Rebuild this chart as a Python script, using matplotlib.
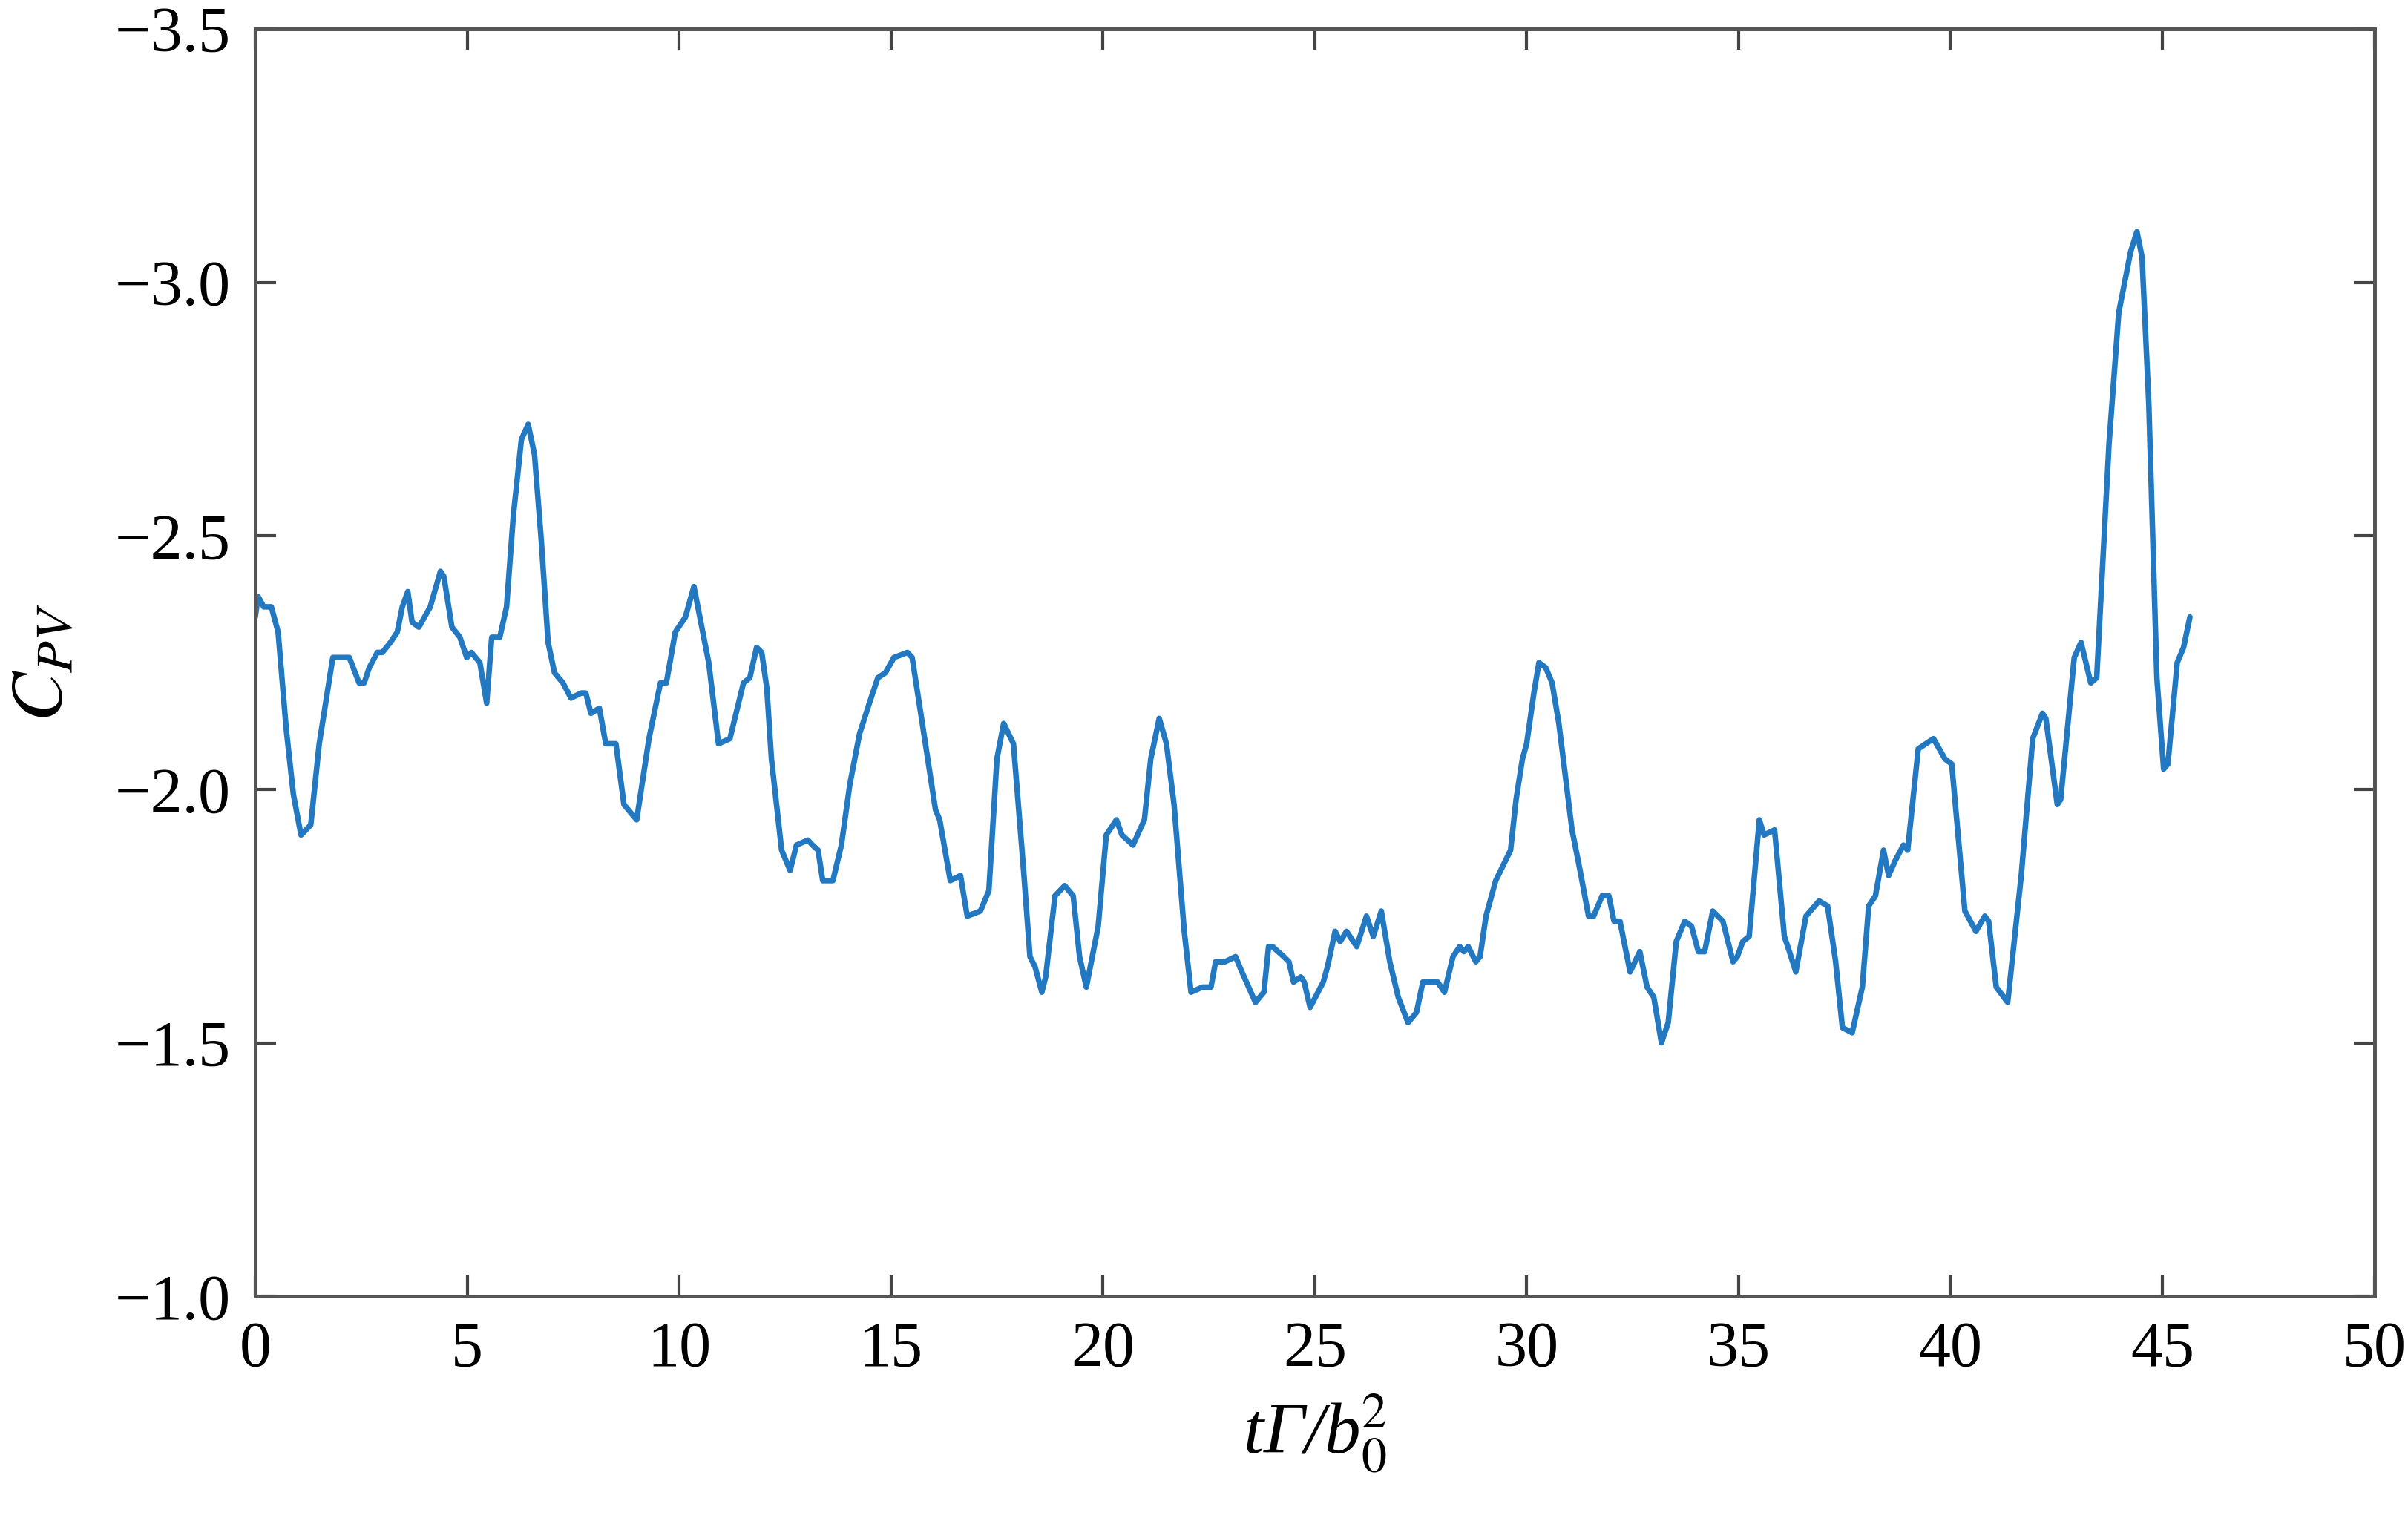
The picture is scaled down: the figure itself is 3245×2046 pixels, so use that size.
import matplotlib
matplotlib.use("Agg")
import matplotlib.pyplot as plt
import numpy as np

# C_PV time history
t = [0.0, 0.07, 0.2, 0.38, 0.54, 0.73, 0.9, 1.08, 1.31, 1.51, 1.83, 2.02, 2.22,
     2.45, 2.57, 2.69, 2.88, 3.0, 3.19, 3.35, 3.47, 3.6, 3.7, 3.86, 4.13, 4.37,
     4.45, 4.64, 4.83, 4.99, 5.1, 5.3, 5.46, 5.58, 5.77, 5.93, 6.09, 6.28, 6.44,
     6.59, 6.75, 6.91, 7.06, 7.26, 7.45, 7.69, 7.8, 7.92, 8.12, 8.27, 8.51, 8.7,
     9.0, 9.29, 9.56, 9.7, 9.91, 10.15, 10.35, 10.7, 10.93, 11.2, 11.52, 11.67,
     11.83, 11.95, 12.07, 12.18, 12.42, 12.62, 12.77, 13.04, 13.15, 13.28, 13.39,
     13.63, 13.83, 14.03, 14.26, 14.49, 14.69, 14.87, 15.07, 15.39, 15.5, 15.74,
     16.05, 16.15, 16.4, 16.64, 16.8, 17.11, 17.31, 17.5, 17.66, 17.89, 18.13,
     18.28, 18.4, 18.56, 18.65, 18.87, 19.1, 19.3, 19.45, 19.61, 19.89, 20.08,
     20.32, 20.45, 20.71, 20.98, 21.13, 21.33, 21.5, 21.68, 21.92, 22.08, 22.35,
     22.55, 22.66, 22.88, 23.13, 23.28, 23.6, 23.8, 23.91, 24.0, 24.27, 24.39,
     24.5, 24.67, 24.75, 24.89, 25.2, 25.3, 25.48, 25.6, 25.75, 25.99, 26.22,
     26.38, 26.57, 26.77, 26.97, 27.2, 27.4, 27.55, 27.79, 27.9, 28.06, 28.26,
     28.42, 28.52, 28.62, 28.8, 28.9, 29.04, 29.27, 29.62, 29.75, 29.9, 30.0,
     30.17, 30.29, 30.45, 30.6, 30.76, 31.07, 31.26, 31.46, 31.58, 31.78, 31.94,
     32.06, 32.2, 32.44, 32.67, 32.84, 33.0, 33.18, 33.34, 33.53, 33.73, 33.89,
     34.05, 34.2, 34.39, 34.63, 34.87, 34.97, 35.1, 35.25, 35.49, 35.6, 35.85,
     36.08, 36.2, 36.35, 36.59, 36.9, 37.1, 37.29, 37.45, 37.68, 37.92, 38.07,
     38.23, 38.42, 38.54, 38.7, 38.89, 38.99, 39.24, 39.6, 39.87, 40.03, 40.34,
     40.6, 40.81, 40.9, 41.08, 41.35, 41.67, 41.94, 42.17, 42.25, 42.52, 42.6,
     42.92, 43.08, 43.31, 43.45, 43.74, 43.97, 44.25, 44.4, 44.52, 44.68, 44.87,
     45.03, 45.13, 45.35, 45.5, 45.65]

cpv = [-2.34, -2.38, -2.36, -2.36, -2.31, -2.12, -1.99, -1.91, -1.93, -2.09,
       -2.26, -2.26, -2.26, -2.21, -2.21, -2.24, -2.27, -2.27, -2.29, -2.31,
       -2.36, -2.39, -2.33, -2.32, -2.36, -2.43, -2.42, -2.32, -2.30, -2.26,
       -2.27, -2.25, -2.17, -2.30, -2.30, -2.36, -2.54, -2.69, -2.72, -2.66,
       -2.49, -2.29, -2.23, -2.21, -2.18, -2.19, -2.19, -2.15, -2.16, -2.09,
       -2.09, -1.97, -1.94, -2.10, -2.21, -2.21, -2.31, -2.34, -2.40, -2.25,
       -2.09, -2.10, -2.21, -2.22, -2.28, -2.27, -2.20, -2.06, -1.88, -1.84,
       -1.89, -1.90, -1.89, -1.88, -1.82, -1.82, -1.89, -2.01, -2.11, -2.17,
       -2.22, -2.23, -2.26, -2.27, -2.26, -2.13, -1.96, -1.94, -1.82, -1.83,
       -1.75, -1.76, -1.80, -2.06, -2.13, -2.09, -1.84, -1.67, -1.65, -1.60,
       -1.63, -1.79, -1.81, -1.79, -1.67, -1.61, -1.73, -1.91, -1.94, -1.91,
       -1.89, -1.94, -2.06, -2.14, -2.09, -1.97, -1.72, -1.60, -1.61, -1.61,
       -1.66, -1.66, -1.67, -1.64, -1.58, -1.60, -1.69, -1.69, -1.67, -1.66,
       -1.62, -1.63, -1.62, -1.57, -1.62, -1.65, -1.72, -1.70, -1.72, -1.69,
       -1.75, -1.71, -1.76, -1.66, -1.59, -1.54, -1.56, -1.62, -1.62, -1.62,
       -1.60, -1.67, -1.69, -1.68, -1.69, -1.66, -1.67, -1.75, -1.82, -1.88,
       -1.98, -2.06, -2.09, -2.19, -2.25, -2.24, -2.21, -2.13, -1.92, -1.84,
       -1.75, -1.75, -1.79, -1.79, -1.74, -1.74, -1.64, -1.68, -1.61, -1.59,
       -1.50, -1.54, -1.70, -1.74, -1.73, -1.68, -1.68, -1.76, -1.74, -1.66,
       -1.67, -1.70, -1.71, -1.94, -1.91, -1.92, -1.71, -1.68, -1.64, -1.75,
       -1.78, -1.77, -1.66, -1.53, -1.52, -1.61, -1.77, -1.79, -1.88, -1.83,
       -1.86, -1.89, -1.88, -2.08, -2.10, -2.06, -2.05, -1.76, -1.72, -1.75,
       -1.74, -1.61, -1.58, -1.83, -2.10, -2.15, -2.14, -1.97, -1.98, -2.26,
       -2.29, -2.21, -2.22, -2.68, -2.94, -3.06, -3.10, -3.05, -2.76, -2.22,
       -2.04, -2.05, -2.25, -2.28, -2.34]

xticks = [0, 5, 10, 15, 20, 25, 30, 35, 40, 45, 50]
yticks = [-3.5, -3.0, -2.5, -2.0, -1.5, -1.0]

plt.rcParams["font.family"] = ["Liberation Serif", "DejaVu Serif"]
plt.rcParams["mathtext.fontset"] = "stix"

fig = plt.figure(figsize=(16.225, 10.23), dpi=200)
ax = fig.add_axes([0.106, 0.146, 0.880, 0.835])

ax.plot(t, cpv, color="#2279c2", lw=2.7, solid_joinstyle="round",
        solid_capstyle="round")

ax.set_xlim(0, 50)
ax.set_ylim(-1.0, -3.5)
ax.set_xticks(xticks)
ax.set_yticks(yticks)
ax.set_xticklabels([str(v) for v in xticks])
ax.set_yticklabels(["\u2212%.1f" % abs(v) for v in yticks])

for s in ax.spines.values():
    s.set_color("#555555")
    s.set_linewidth(1.8)
ax.tick_params(direction="in", length=10, width=1.5, color="#444444",
               top=True, right=True, labelsize=31, pad=12)

# italic text outside $...$ gives the slanted Gamma
ax.set_xlabel("t\u0393/b$_0^2$", fontsize=35, style="italic", labelpad=6)
ax.set_ylabel(r"$C_{PV}$", fontsize=36, labelpad=18)

fig.savefig("out.png", dpi=200)
